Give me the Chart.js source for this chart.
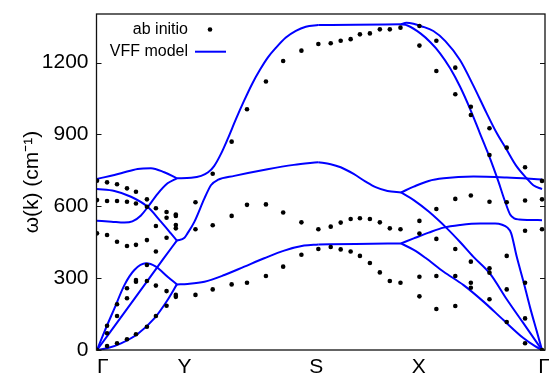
<!DOCTYPE html>
<html>
<head>
<meta charset="utf-8">
<script src="https://cdn.jsdelivr.net/npm/chart.js@4"></script>
<style>
  html, body { margin: 0; padding: 0; background: #fff; }
</style>
</head>
<body>
<canvas id="chart" width="549" height="375"></canvas>
<script>
// k path: Γ - Y - S - X - Γ, x in path units
const kLabels = ['Γ', 'Y', 'S', 'X', 'Γ'];
const kLabelPos = [6.3, 88.3, 220.6, 323.3, 449];
const yTicks = [0, 300, 600, 900, 1200];

// ab initio frequencies (cm-1), one list per k point
const abK = [0.5, 10.6, 20.6, 30.6, 39.6, 50.6, 59.6, 70.3, 79.6,
  99.3, 116.6, 135.6, 151, 170, 187.3, 205.6, 222.6,
  235, 245, 255, 264.3, 274.3, 284.3, 294.3, 305,
  324, 341, 360, 375.6, 394.3, 411.6, 430, 447];
const abW = [
  [0, 487, 626, 707],
  [17, 70, 101, 480, 622, 700],
  [28, 142, 191, 452, 622, 692],
  [45, 216, 258, 434, 619, 675],
  [66, 285, 292, 439, 612, 661],
  [97, 288, 355, 459, 598, 629],
  [142, 269, 411, 518, 592],
  [185, 246, 469, 552, 576],
  [222, 230, 508, 522, 560, 566],
  [230, 504, 617],
  [253, 521, 736],
  [274, 560, 870],
  [281, 606, 1005],
  [309, 608, 1121],
  [348, 574, 1207],
  [398, 533, 1250],
  [422, 504, 1278],
  [430, 515, 1281],
  [420, 532, 1291],
  [411, 547, 1298],
  [393, 550, 1318],
  [363, 547, 1322],
  [324, 533, 1339],
  [288, 508, 1339],
  [281, 504, 1346],
  [224, 306, 486, 539, 1271, 1353],
  [171, 309, 464, 589, 1165, 1291],
  [184, 309, 422, 631, 1068, 1179],
  [260, 281, 369, 645, 981, 1016],
  [212, 323, 341, 619, 814, 926],
  [117, 253, 393, 617, 845],
  [28, 132, 281, 498, 624, 763],
  [0, 504, 629, 706]
];

// VFF model branches, split at the high symmetry points
// Γ-Y
const gy1 = [[0.5,0],[10.6,7],[24.6,28],[41.3,67],[58,132],[71.3,209],[80.6,274]];
const gy2 = [[0.5,0],[8,77],[18,174],[28,271],[38,334],[49.6,362],[59.6,348],[71.3,306],[80.6,274]];
const gy3 = [[0.5,0],[40,225],[66.3,376],[80.6,457]];
const gy4 = [[0.5,672],[18,664],[34.6,640],[51.3,598],[64.6,536],[74.6,487],[80.6,457]];
const gy5 = [[0.5,540],[15,536],[28,532],[36,537],[44.6,562],[51.3,596],[61.3,652],[71.3,696],[80.6,717]];
const gy6 = [[0.5,714],[24.6,738],[41.3,756],[54.6,759],[68,742],[80.6,717]];
// Y-S
const ys1 = [[80.6,717],[95,719],[105,727],[112,742],[118,768],[125,820],[132,885],[140,965],[148,1040],
  [156,1110],[164,1170],[172,1222],[180,1262],[190,1305],[200,1333],[210,1350],[222.5,1357]];
const ys2 = [[80.6,457],[88.3,469],[91.3,487],[98.3,536],[108.3,633],[115,689],[121.6,710],[138.3,727],
  [171.6,755],[198,773],[222.5,784]];
const ys3 = [[80.6,274],[91.3,276],[108.3,285],[128.3,313],[148.3,348],[168.3,383],[188.3,415],[208.3,436],[222.5,441]];
// S-X
const sx1 = [[222.5,1357],[260,1358],[305.5,1360]];
const sx2 = [[222.5,784],[235,776],[245,763],[258,735],[270,703],[280,680],[292,664],[305.5,658]];
const sx3 = [[222.5,441],[260,443],[305.5,445]];
// X-Γ
const xg1 = [[305.5,1360],[311,1366],[318,1362],[326,1352],[338,1332],[350,1290],[364.7,1211],[378,1105],
  [391.3,990],[401,910],[411.3,838],[421,770],[431.6,717],[438.3,688],[447,672]];
const xg2 = [[305.5,1360],[312,1355],[325,1322],[335,1285],[344.7,1239],[355,1175],[364.7,1100],[375,1005],
  [384.7,905],[392,830],[398,765],[403.3,703],[410,619],[415,566],[419,550],[424,545],[435,543],[447,542]];
const xg3 = [[305.5,658],[318.3,682],[333.3,706],[348.3,717],[378.3,724],[411.6,720],[447,712]];
const xg4 = [[305.5,658],[318.3,626],[333.3,578],[351.6,508],[365,450],[378,390],[395,318],[411.6,212],[428.3,112],[447,0]];
const xg5 = [[305.5,445],[318.3,466],[333.3,490],[348.3,511],[365,522],[385,528],[400,528],[407,523],[412,512],
  [416,488],[421.6,390],[428.3,287],[435,178],[441.6,80],[447,0]];
const xg6 = [[305.5,445],[318.3,418],[330,385],[348.3,327],[368.3,271],[388.3,202],[408.3,125],[428.3,50],[440,16],[447,0]];

const branches = [gy1, gy2, gy3, gy4, gy5, gy6, ys1, ys2, ys3, sx1, sx2, sx3, xg1, xg2, xg3, xg4, xg5, xg6];

const FONT = '"Liberation Sans", Arial, Helvetica, sans-serif';
Chart.defaults.font.family = FONT;
Chart.defaults.color = '#000';

// dots from the ab initio table
const abPoints = [];
abK.forEach((k, i) => {
  abW[i].forEach(w => abPoints.push({x: k, y: w}));
});

const datasets = [{
  type: 'scatter',
  label: 'ab initio',
  data: abPoints,
  pointRadius: 2.3,
  pointBackgroundColor: '#000',
  pointBorderWidth: 0
}];
branches.forEach(b => {
  datasets.push({
    type: 'line',
    label: 'VFF model',
    data: b.map(p => ({x: p[0], y: p[1]})),
    borderColor: '#0000ff',
    borderWidth: 2,
    pointRadius: 0,
    fill: false,
    cubicInterpolationMode: 'monotone'
  });
});

// frame, inward ticks and the gnuplot style key
const decorations = {
  id: 'decorations',
  afterDraw(chart) {
    const {ctx, chartArea: a, scales: {y}} = chart;
    ctx.save();
    ctx.strokeStyle = '#111';
    ctx.lineWidth = 1.3;
    ctx.strokeRect(a.left, a.top, a.right - a.left, a.bottom - a.top);
    ctx.lineWidth = 1;
    yTicks.forEach(v => {
      const py = Math.round(y.getPixelForValue(v)) + 0.5;
      ctx.beginPath();
      ctx.moveTo(a.left, py); ctx.lineTo(a.left + 5, py);
      ctx.moveTo(a.right, py); ctx.lineTo(a.right - 5, py);
      ctx.stroke();
    });

    ctx.font = '16px ' + FONT;
    ctx.fillStyle = '#000';
    ctx.textAlign = 'right';
    ctx.textBaseline = 'middle';
    const tx = a.left + 91.5;
    ctx.fillText('ab initio', tx, a.top + 16);
    ctx.beginPath();
    ctx.arc(a.left + 113.5, a.top + 15.5, 2.3, 0, Math.PI * 2);
    ctx.fill();
    ctx.fillText('VFF model', tx, a.top + 38);
    ctx.strokeStyle = '#0000ff';
    ctx.lineWidth = 2;
    ctx.beginPath();
    ctx.moveTo(a.left + 98.5, a.top + 37.7);
    ctx.lineTo(a.left + 129.5, a.top + 37.7);
    ctx.stroke();
    ctx.restore();
  }
};

new Chart(document.getElementById('chart'), {
  data: { datasets },
  options: {
    responsive: false,
    animation: false,
    layout: { padding: { top: 14, right: 2.5, left: 0, bottom: 0 } },
    plugins: { legend: { display: false }, tooltip: { enabled: false } },
    scales: {
      x: {
        type: 'linear',
        min: 0,
        max: 450,
        grid: { display: false, drawTicks: false },
        border: { display: false },
        ticks: {
          autoSkip: false,
          maxRotation: 0,
          padding: 5,
          font: { size: 21 },
          callback: (v, i) => kLabels[i]
        },
        afterBuildTicks: s => { s.ticks = kLabelPos.map(v => ({value: v})); },
        afterFit: s => { s.height = 25; s.paddingLeft = 0; s.paddingRight = 0; }
      },
      y: {
        type: 'linear',
        min: 0,
        max: 1403,
        grid: { display: false, drawTicks: false },
        border: { display: false },
        ticks: { padding: 8, font: { size: 21 }, callback: v => String(v) },
        afterBuildTicks: s => { s.ticks = yTicks.map(v => ({value: v})); },
        afterFit: s => { s.width = 96.5; s.paddingTop = 0; s.paddingBottom = 0; },
        title: {
          display: true,
          text: 'ω(k) (cm⁻¹)',
          font: { size: 21 },
          padding: { top: 20, bottom: 0 }
        }
      }
    }
  },
  plugins: [decorations]
});
</script>
</body>
</html>
